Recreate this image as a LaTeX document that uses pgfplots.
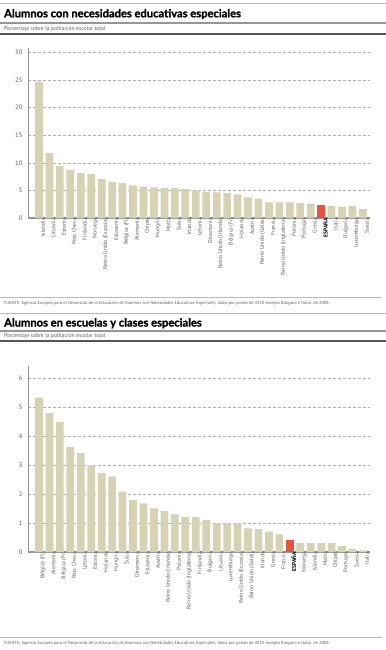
\documentclass[border=0pt]{standalone}
\usepackage{pgfplots}
\pgfplotsset{compat=1.18}
\usepackage{fontspec}
\setmainfont{PT Sans}
\newfontfamily\titlefont[BoldFeatures={FakeBold=1.3}]{Lato}
\definecolor{barc}{RGB}{214,210,180}
\definecolor{redc}{RGB}{232,84,62}
\definecolor{axisc}{RGB}{150,150,150}
\definecolor{gridc}{RGB}{175,175,175}
\definecolor{labc}{RGB}{95,95,95}
\definecolor{ruleA}{RGB}{185,185,185}
\definecolor{ruleB}{RGB}{150,150,150}
\definecolor{ruleC}{RGB}{85,85,85}
\pgfplotsset{mybars/.style={
  scale only axis, width=342bp, anchor=south west,
  xmin=-1.05, xmax=31.67, ymin=0,
  axis x line*=bottom, axis y line*=left,
  y axis line style={draw=axisc, line width=0.8pt},
  x axis line style={draw=axisc, line width=1.3pt},
  xtick={0,...,31}, major tick length=0pt,
  xticklabel style={rotate=90, anchor=east, font=\fontsize{5.6}{6}\selectfont, text=labc, inner sep=0pt, yshift=-4bp},
  yticklabel style={font=\fontsize{6.5}{7}\selectfont, text=labc, inner sep=0pt, xshift=-5.5bp},
  /pgf/number format/assume math mode=true,
  ymajorgrids, grid style={draw=gridc, line width=0.5pt, dash pattern=on 2.5bp off 2.5bp},
  ybar, bar width=7.7bp, bar shift=0pt,
  every axis plot/.append style={draw=none},
}}
\begin{document}
\begin{tikzpicture}
\path[use as bounding box, fill=white] (0,0) rectangle (386bp,-650bp);
% ---------- chart 1 header ----------
\draw[ruleA, line width=0.8pt] (0,-3bp) -- (386bp,-3bp);
\node[anchor=base west, inner sep=0] at (4bp,-17.3bp) {\titlefont\bfseries\fontsize{11.2}{12}\selectfont Alumnos con necesidades educativas especiales};
\draw[ruleB, line width=1.6pt] (0,-22.8bp) -- (386bp,-22.8bp);
\node[anchor=base west, inner sep=0, text=labc] at (4bp,-30.3bp) {\fontsize{5.6}{6}\selectfont Porcentaje sobre la población escolar total};
\draw[ruleC, line width=1.1pt] (0,-34bp) -- (386bp,-34bp);
% ---------- chart 1 ----------
\begin{axis}[mybars, at={(28bp,-218bp)}, height=170bp, ymax=30.8,
  ytick={0,5,10,15,20,25,30},
  xticklabels={Islandia,Lituania,Estonia,Rep. Checa,Finlandia,Noruega,Reino Unido (Escocia),Eslovenia,Bélgica (Fl),Alemania,Chipre,Hungría,Malta,Suiza,Irlanda,Letonia,Dinamarca,Reino Unido (Irlanda),Bélgica (Fr),Holanda,Austria,Reino Unido (Gales),Francia,Reino Unido (Inglaterra),Polonia,Portugal,Grecia,{\color{black}\bfseries ESPAÑA},Italia,Bulgaria,Luxemburgo,Suecia}]
\addplot[fill=barc] coordinates {(0,24.7) (1,11.8) (2,9.4) (3,8.7) (4,8.15) (5,8.0) (6,7.1) (7,6.5) (8,6.3) (9,5.9) (10,5.7) (11,5.55) (12,5.4) (13,5.45) (14,5.25) (15,4.95) (16,4.8) (17,4.65) (18,4.5) (19,4.3) (20,3.75) (21,3.5) (22,2.85) (23,2.85) (24,2.85) (25,2.7) (26,2.6) (28,2.2) (29,2.0) (30,2.2) (31,1.6)};
\addplot[fill=redc] coordinates {(27,2.4)};
\end{axis}
\draw[ruleA, line width=0.6pt] (0,-297bp) -- (382bp,-297bp);
\node[anchor=base west, inner sep=0, text=labc] at (4bp,-304bp) {\fontsize{4.4}{5}\selectfont FUENTE: Agencia Europea para el Desarrollo de la Educación de Alumnos con Necesidades Educativas Especiales, datos por países de 2010 excepto Bulgaria e Italia: de 2008.};
% ---------- chart 2 header ----------
\draw[ruleA, line width=0.8pt] (0,-313bp) -- (386bp,-313bp);
\node[anchor=base west, inner sep=0] at (4bp,-326.5bp) {\titlefont\bfseries\fontsize{11.2}{12}\selectfont Alumnos en escuelas y clases especiales};
\draw[ruleB, line width=1.6pt] (0,-331bp) -- (386bp,-331bp);
\node[anchor=base west, inner sep=0, text=labc] at (4bp,-337.5bp) {\fontsize{5.6}{6}\selectfont Porcentaje sobre la población escolar total};
\draw[ruleC, line width=1.1pt] (0,-341bp) -- (386bp,-341bp);
% ---------- chart 2 ----------
\begin{axis}[mybars, at={(28bp,-552bp)}, height=186bp, ymax=6.42,
  ytick={0,1,2,3,4,5,6},
  xticklabels={Bélgica (Fl),Alemania,Bélgica (Fr),Rep. Checa,Letonia,Estonia,Holanda,Hungría,Suiza,Dinamarca,Eslovenia,Austria,Reino Unido (Irlanda),Polonia,Reino Unido (Inglaterra),Finlandia,Bulgaria,Lituania,Luxemburgo,Reino Unido (Escocia),Reino Unido (Gales),Irlanda,Grecia,Francia,{\color{black}\bfseries ESPAÑA},Noruega,Islandia,Malta,Chipre,Portugal,Suecia,Italia}]
\addplot[fill=barc] coordinates {(0,5.33) (1,4.79) (2,4.48) (3,3.62) (4,3.41) (5,3.0) (6,2.72) (7,2.61) (8,2.08) (9,1.80) (10,1.68) (11,1.51) (12,1.41) (13,1.30) (14,1.21) (15,1.21) (16,1.1) (17,0.99) (18,0.99) (19,0.99) (20,0.82) (21,0.79) (22,0.70) (23,0.61) (25,0.31) (26,0.31) (27,0.31) (28,0.31) (29,0.20) (30,0.10) (31,0.06)};
\addplot[fill=redc] coordinates {(24,0.40)};
\end{axis}
\draw[ruleA, line width=0.6pt] (0,-637bp) -- (382bp,-637bp);
\node[anchor=base west, inner sep=0, text=labc] at (4bp,-644bp) {\fontsize{4.4}{5}\selectfont FUENTE: Agencia Europea para el Desarrollo de la Educación de Alumnos con Necesidades Educativas Especiales, datos por países de 2010 excepto Bulgaria e Italia: de 2008.};
\end{tikzpicture}
\end{document}
